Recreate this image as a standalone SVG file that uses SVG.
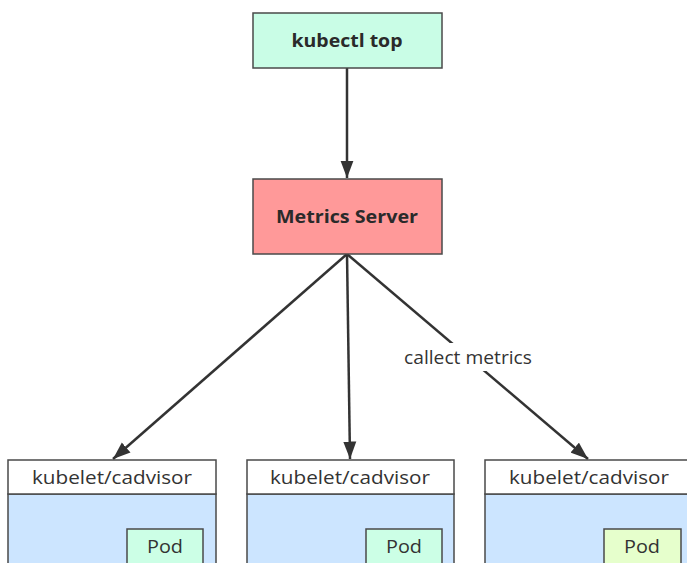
<svg xmlns="http://www.w3.org/2000/svg" width="687" height="563" viewBox="0 0 687 563">
<style>
.box{stroke:#4a4a4a;stroke-width:1.5}
.hdr{fill:#ffffff;stroke:#4a4a4a;stroke-width:1.5}
.body{fill:#cce5ff;stroke:#4a4a4a;stroke-width:1.5}
.pod{fill:#ccffe6;stroke:#4a4a4a;stroke-width:1.5}
.bold{font-family:"Open Sans","Noto Sans",sans-serif;font-weight:bold;font-size:18px;fill:#2a2a2a;text-anchor:middle}
.reg{font-family:"Open Sans","Noto Sans",sans-serif;font-size:18.5px;fill:#333;text-anchor:middle}
.podt{font-family:"Open Sans","Noto Sans",sans-serif;font-size:19px;fill:#333;text-anchor:middle}
.edge{stroke:#333;stroke-width:2.5;fill:none}
</style>
<defs>
<marker id="ah" viewBox="0 0 16 12" refX="16" refY="6" markerWidth="7" markerHeight="5.5" markerUnits="strokeWidth" orient="auto">
<path d="M0,0 L16,6 L0,12 z" fill="#333"/>
</marker>
</defs>
<rect width="687" height="563" fill="#ffffff"/>
<g id="connectors">
<line class="edge" x1="347" y1="68" x2="347" y2="178" marker-end="url(#ah)"/>
<line class="edge" x1="347" y1="254" x2="113" y2="459" marker-end="url(#ah)"/>
<line class="edge" x1="347" y1="254" x2="350" y2="459" marker-end="url(#ah)"/>
<line class="edge" x1="347" y1="254" x2="588" y2="459" marker-end="url(#ah)"/>
<rect x="401" y="343" width="136" height="28" fill="#ffffff"/>
<text class="reg" x="468" y="364" textLength="128" lengthAdjust="spacingAndGlyphs">callect metrics</text>
</g>
<g id="kubectl-top">
<rect class="box" x="253" y="13" width="189" height="55" fill="#c9fde6"/>
<text class="bold" x="347" y="47" textLength="111" lengthAdjust="spacingAndGlyphs">kubectl top</text>
</g>
<g id="metrics-server">
<rect class="box" x="253" y="179" width="189" height="75" fill="#ff9999"/>
<text class="bold" x="347" y="223" textLength="142" lengthAdjust="spacingAndGlyphs">Metrics Server</text>
</g>
<g id="node1">
<rect class="body" x="8" y="494" width="208" height="80"/>
<rect class="hdr" x="8" y="460" width="208" height="34"/>
<text class="reg" x="112" y="484" textLength="160" lengthAdjust="spacingAndGlyphs">kubelet/cadvisor</text>
<g id="pod1">
<rect class="pod" x="127" y="529" width="76" height="45"/>
<text class="podt" x="165" y="553" textLength="36" lengthAdjust="spacingAndGlyphs">Pod</text>
</g>
</g>
<g id="node2">
<rect class="body" x="247" y="494" width="207" height="80"/>
<rect class="hdr" x="247" y="460" width="207" height="34"/>
<text class="reg" x="350" y="484" textLength="160" lengthAdjust="spacingAndGlyphs">kubelet/cadvisor</text>
<g id="pod2">
<rect class="pod" x="366" y="529" width="76" height="45"/>
<text class="podt" x="404" y="553" textLength="36" lengthAdjust="spacingAndGlyphs">Pod</text>
</g>
</g>
<g id="node3">
<rect class="body" x="485" y="494" width="215" height="80"/>
<rect class="hdr" x="485" y="460" width="215" height="34"/>
<text class="reg" x="589" y="484" textLength="160" lengthAdjust="spacingAndGlyphs">kubelet/cadvisor</text>
<g id="pod3">
<rect class="pod" x="604" y="529" width="77" height="45" style="fill:#e6ffcc"/>
<text class="podt" x="642" y="553" textLength="36" lengthAdjust="spacingAndGlyphs">Pod</text>
</g>
</g>
</svg>
